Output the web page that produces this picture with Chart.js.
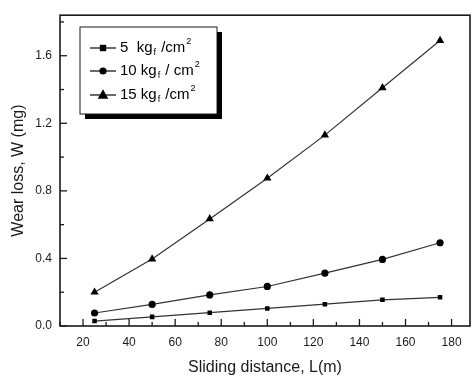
<!DOCTYPE html>
<html>
<head>
<meta charset="utf-8">
<script src="https://cdn.jsdelivr.net/npm/chart.js@4"></script>
<style>
  html, body { margin: 0; padding: 0; background: #fff; }
  #wearChart { display: block; }
</style>
</head>
<body>
<canvas id="wearChart" width="475" height="377"></canvas>
<script>
const slidingDistance = [25, 50, 75, 100, 125, 150, 175];
const wear5 = [0.029, 0.054, 0.079, 0.104, 0.129, 0.155, 0.170];
const wear10 = [0.077, 0.128, 0.184, 0.234, 0.313, 0.394, 0.493];
const wear15 = [0.20, 0.396, 0.634, 0.875, 1.13, 1.41, 1.69];

const loadLabels = ['5', '10', '15'];
const unitBefore = ['  kg', ' kg', ' kg'];
const unitAfter = [' /cm', ' / cm', ' /cm'];
const xTitle = 'Sliding distance, L(m)';
const yTitle = 'Wear loss, W (mg)';

const fontFamily = '"Liberation Sans", Arial, sans-serif';
const ink = '#1a1a1a';

// inward ticks, frame and the boxed legend with shadow
const framePlugin = {
  id: 'frame',
  afterDraw(chart) {
    const ctx = chart.ctx;
    const area = chart.chartArea;
    const xs = chart.scales.x, ys = chart.scales.y;
    ctx.save();
    ctx.strokeStyle = ink;
    ctx.lineWidth = 1.6;
    ctx.strokeRect(area.left, area.top, area.right - area.left, area.bottom - area.top);

    ctx.lineWidth = 1.3;
    xs.ticks.forEach(t => {
      const px = xs.getPixelForValue(t.value);
      const len = t.value % 20 === 0 ? 7 : 4;
      ctx.beginPath();
      ctx.moveTo(px, area.bottom);
      ctx.lineTo(px, area.bottom - len);
      ctx.stroke();
    });
    ys.ticks.forEach(t => {
      const py = ys.getPixelForValue(t.value);
      const major = Math.abs(t.value / 0.4 - Math.round(t.value / 0.4)) < 1e-6;
      const len = major ? 7 : 4;
      ctx.beginPath();
      ctx.moveTo(area.left, py);
      ctx.lineTo(area.left + len, py);
      ctx.stroke();
    });

    // legend box
    const bx = 80, by = 27, bw = 137, bh = 87;
    ctx.fillStyle = '#000';
    ctx.fillRect(bx + 5, by + 5, bw, bh);
    ctx.fillStyle = '#fff';
    ctx.fillRect(bx, by, bw, bh);
    ctx.lineWidth = 1;
    ctx.strokeStyle = ink;
    ctx.strokeRect(bx, by, bw, bh);

    const rows = [48, 71, 95];
    chart.data.datasets.forEach((ds, i) => {
      const y = rows[i];
      ctx.strokeStyle = ink;
      ctx.lineWidth = 1.3;
      ctx.beginPath();
      ctx.moveTo(90, y);
      ctx.lineTo(116, y);
      ctx.stroke();
      ctx.fillStyle = '#000';
      drawMarker(ctx, ds.pointStyle, 103, y, ds.pointRadius);

      let x = 120;
      ctx.textBaseline = 'middle';
      ctx.textAlign = 'left';
      ctx.font = '15px ' + fontFamily;
      const main = loadLabels[i] + unitBefore[i];
      ctx.fillText(main, x, y);
      x += ctx.measureText(main).width;
      ctx.font = '9px ' + fontFamily;
      ctx.fillText('f', x + 1, y + 5);
      x += ctx.measureText('f').width + 2;
      ctx.font = '15px ' + fontFamily;
      ctx.fillText(unitAfter[i], x, y);
      x += ctx.measureText(unitAfter[i]).width;
      ctx.font = '9px ' + fontFamily;
      ctx.fillText('2', x + 1, y - 6);
    });
    ctx.restore();
  }
};

function drawMarker(ctx, style, x, y, r) {
  ctx.beginPath();
  if (style === 'rect') {
    ctx.rect(x - r, y - r, r * 2, r * 2);
  } else if (style === 'circle') {
    ctx.arc(x, y, r, 0, Math.PI * 2);
  } else {
    ctx.moveTo(x, y - r * 1.2);
    ctx.lineTo(x + r * 1.1, y + r * 0.8);
    ctx.lineTo(x - r * 1.1, y + r * 0.8);
    ctx.closePath();
  }
  ctx.fill();
}

function series(values, style, radius) {
  return {
    data: slidingDistance.map((d, i) => ({ x: d, y: values[i] })),
    borderColor: '#333',
    borderWidth: 1.2,
    pointStyle: style,
    pointRadius: radius,
    pointBackgroundColor: '#000',
    pointBorderColor: '#000',
    pointBorderWidth: 0,
    tension: 0,
    fill: false
  };
}

const datasets = [
  series(wear5, 'rect', 3.2),
  series(wear10, 'circle', 3.6),
  series(wear15, 'triangle', 4.8)
];

const ctx = document.getElementById('wearChart').getContext('2d');
const wearChart = new Chart(ctx, {
  type: 'line',
  data: { datasets: datasets },
  plugins: [framePlugin],
  options: {
    responsive: false,
    animation: false,
    layout: { padding: { top: 9, right: 5, left: 0, bottom: 0 } },
    plugins: { legend: { display: false }, tooltip: { enabled: false } },
    scales: {
      x: {
        type: 'linear',
        min: 10,
        max: 188,
        afterBuildTicks: s => {
          s.ticks = [];
          for (let v = 10; v <= 180; v += 10) s.ticks.push({ value: v });
        },
        afterFit: s => { s.height = 51; },
        grid: { display: false, drawTicks: false },
        border: { display: false },
        ticks: {
          padding: 9,
          color: ink,
          maxRotation: 0,
          minRotation: 0,
          autoSkip: false,
          font: { family: fontFamily, size: 12 },
          callback: v => (v % 20 === 0 ? String(v) : '')
        },
        title: {
          display: true,
          text: xTitle,
          color: ink,
          font: { family: fontFamily, size: 16 },
          padding: { top: 3, bottom: 0 }
        }
      },
      y: {
        type: 'linear',
        min: 0,
        max: 1.84,
        afterBuildTicks: s => {
          s.ticks = [];
          for (let k = 0; k <= 9; k++) s.ticks.push({ value: +(k * 0.2).toFixed(1) });
        },
        afterFit: s => { s.width = 60; },
        grid: { display: false, drawTicks: false },
        border: { display: false },
        ticks: {
          padding: 8,
          color: ink,
          autoSkip: false,
          font: { family: fontFamily, size: 12 },
          callback: v => {
            const k = Math.round(v / 0.2);
            return k % 2 === 0 ? (k * 0.2).toFixed(1) : '';
          }
        },
        title: {
          display: true,
          text: yTitle,
          color: ink,
          font: { family: fontFamily, size: 16 },
          padding: { top: 9, bottom: 4 }
        }
      }
    }
  }
});
</script>
</body>
</html>
